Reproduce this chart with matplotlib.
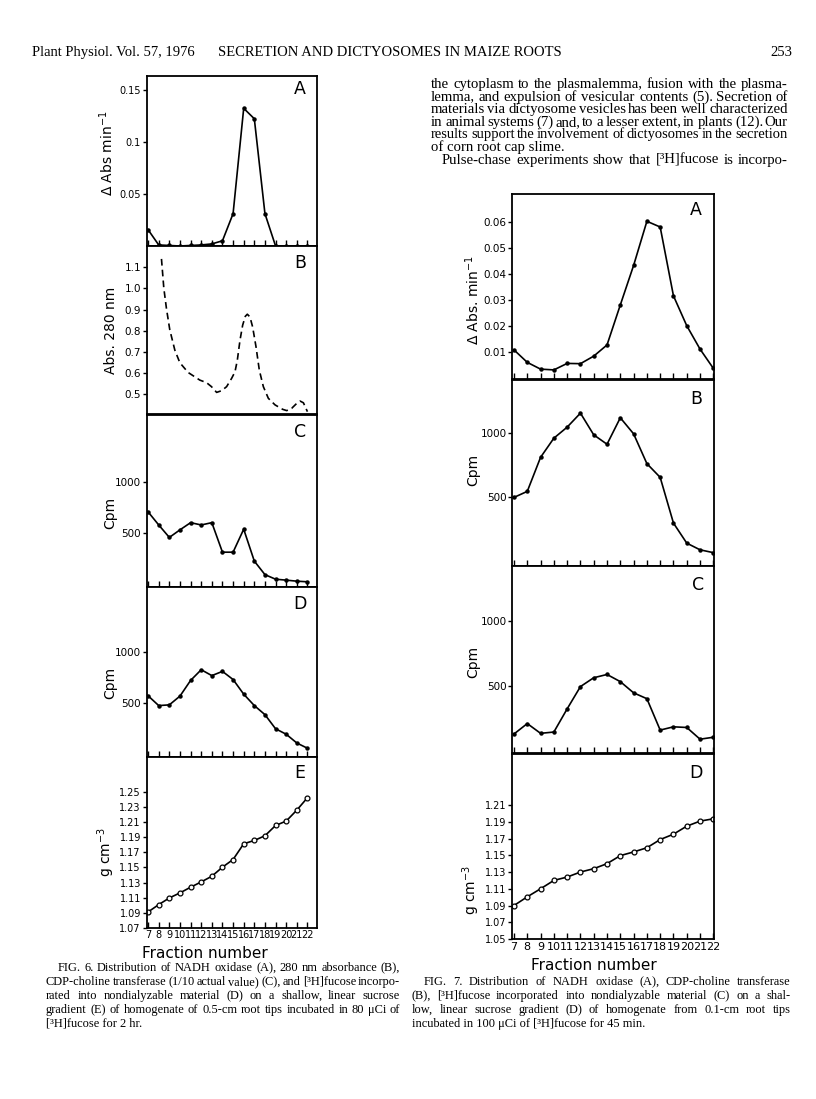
import matplotlib
matplotlib.use("Agg")
import matplotlib.pyplot as plt
from matplotlib.textpath import TextPath
from matplotlib.font_manager import FontProperties

W, H, DPI = 816, 1099, 100

# ---- data, Fig. 6 (fractions 7..22) ----
frac = list(range(7, 23))
f6_nadh = [0.0156, 0.001, 0.0005, 0.0, 0.0005, 0.001, 0.002, 0.005,
           0.031, 0.132, 0.122, 0.031, 0.0, 0.0, 0.0, 0.0]
f6_abs_frac = [8.26, 8.48, 8.73, 9.04, 9.52, 9.99, 10.77, 11.87, 12.5, 12.97,
               13.45, 13.92, 14.39, 14.86, 15.18, 15.4, 15.65, 15.9, 16.15,
               16.34, 16.59, 16.84, 17.16, 17.47, 17.85, 18.32, 18.95, 19.67,
               20.05, 20.52, 20.99, 21.31, 21.62, 22.0]
f6_abs = [1.139, 1.001, 0.904, 0.805, 0.708, 0.649, 0.603, 0.567, 0.555, 0.536,
          0.509, 0.517, 0.536, 0.575, 0.606, 0.661, 0.755, 0.826, 0.868,
          0.878, 0.865, 0.818, 0.724, 0.614, 0.536, 0.481, 0.450, 0.429,
          0.423, 0.434, 0.457, 0.468, 0.460, 0.418]
f6_cdp = [708, 582, 462, 535, 604, 582, 604, 320, 320, 541, 234, 104, 60, 51, 41, 35]
f6_fuc = [572, 477, 484, 569, 721, 825, 768, 809, 730, 588, 477, 389, 252, 199, 114, 63]
f6_dens = [1.0912, 1.1009, 1.1097, 1.1164, 1.1239, 1.1309, 1.1384, 1.1504,
           1.1605, 1.1813, 1.1857, 1.1919, 1.2055, 1.2113, 1.2258, 1.2422]

# ---- data, Fig. 7 ----
f7_nadh = [0.0107, 0.0059, 0.0033, 0.0030, 0.0055, 0.0054, 0.0083, 0.0126,
           0.028, 0.0432, 0.0602, 0.058, 0.0315, 0.020, 0.011, 0.0036]
f7_cdp = [497, 544, 809, 958, 1044, 1153, 984, 911, 1117, 992, 760, 653, 297, 141, 89, 67]
f7_fuc = [133, 213, 138, 148, 326, 497, 565, 590, 535, 449, 404, 163, 188, 183, 93, 108]
f7_dens = [1.090, 1.1004, 1.110, 1.120, 1.124, 1.130, 1.134, 1.140, 1.1496,
           1.154, 1.159, 1.1688, 1.1752, 1.1848, 1.1908, 1.1936]

fig = plt.figure(figsize=(W / DPI, H / DPI), dpi=DPI)
fig.patch.set_facecolor("white")


def add_ax(x0, x1, y0, y1):
    # pixel box (y from top) -> axes
    return fig.add_axes([x0 / W, 1 - y1 / H, (x1 - x0) / W, (y1 - y0) / H])


def style(ax, ylim, yticks, ylabels, xlim, xlabels=False, xticks=True, letter="", lpos=(0.9, 17)):
    ax.set_xlim(*xlim)
    ax.set_ylim(*ylim)
    ax.set_yticks(yticks)
    ax.set_yticklabels(ylabels)
    for s in ax.spines.values():
        s.set_linewidth(1.3)
    ax.tick_params(axis="y", direction="out", length=3, width=1, labelsize=7.5, pad=1)
    if xticks:
        ax.set_xticks(frac)
    else:
        ax.set_xticks([])
    ax.tick_params(axis="x", direction="in", length=4, width=1, labelsize=8, pad=2)
    if xlabels:
        ax.set_xticklabels([str(f) for f in frac])
    else:
        ax.set_xticklabels([])
    h = ax.get_position().height * H
    ax.text(lpos[0], 1 - lpos[1] / h, letter, transform=ax.transAxes,
            ha="center", va="center", fontsize=12.5, family="DejaVu Sans")


ptkw = dict(color="black", lw=1.2, marker="o", markersize=2.2)

# ---------------- Fig. 6 ----------------
L0, L1 = 146.5, 317
xl6 = (6.85, 22.9)
ax = add_ax(L0, L1, 76, 246)
ax.plot(frac, f6_nadh, **ptkw)
style(ax, (0, 0.163), [0.05, 0.1, 0.15], ["0.05", "0.1", "0.15"], xl6, letter="A", lpos=(0.9, 13))
ax.tick_params(axis="y", labelsize=7)

ax = add_ax(L0, L1, 246, 414)
ax.plot(f6_abs_frac, f6_abs, color="black", lw=1.2, ls=(0, (4, 2.5)))
style(ax, (0.407, 1.2), [0.5, 0.6, 0.7, 0.8, 0.9, 1.0, 1.1],
      ["0.5", "0.6", "0.7", "0.8", "0.9", "1.0", "1.1"], xl6, xticks=False, letter="B")

ax = add_ax(L0, L1, 415, 587)
ax.plot(frac, f6_cdp, **ptkw)
style(ax, (-15, 1640), [500, 1000], ["500", "1000"], xl6, letter="C")

ax = add_ax(L0, L1, 587, 757)
ax.plot(frac, f6_fuc, **ptkw)
style(ax, (-22, 1628), [500, 1000], ["500", "1000"], xl6, letter="D")

ax = add_ax(L0, L1, 757, 928)
ax.plot(frac, f6_dens, color="black", lw=1.2, marker="o", markersize=3.5,
        markerfacecolor="white", markeredgewidth=0.9)
yt = [1.07, 1.09, 1.11, 1.13, 1.15, 1.17, 1.19, 1.21, 1.23, 1.25]
style(ax, (1.07, 1.296), yt, ["%.2f" % v for v in yt], xl6, xlabels=True, letter="E", lpos=(0.9, 16))
ax.tick_params(axis="x", labelsize=7, pad=1.5)
ax.tick_params(axis="y", labelsize=7)

# ---------------- Fig. 7 ----------------
R0, R1 = 512, 714
xl7 = (6.85, 22.05)
ax = add_ax(R0, R1, 194, 379)
ax.plot(frac, f7_nadh, **ptkw)
yt = [0.01, 0.02, 0.03, 0.04, 0.05, 0.06]
style(ax, (-0.0005, 0.0707), yt, ["%.2f" % v for v in yt], xl7, letter="A", lpos=(0.91, 16))

ax = add_ax(R0, R1, 380, 566)
ax.plot(frac, f7_cdp, **ptkw)
style(ax, (-37, 1411), [500, 1000], ["500", "1000"], xl7, letter="B", lpos=(0.91, 19))

ax = add_ax(R0, R1, 566, 753)
ax.plot(frac, f7_fuc, **ptkw)
style(ax, (-13, 1423), [500, 1000], ["500", "1000"], xl7, letter="C", lpos=(0.92, 19))

ax = add_ax(R0, R1, 754, 939)
ax.plot(frac, f7_dens, color="black", lw=1.2, marker="o", markersize=3.5,
        markerfacecolor="white", markeredgewidth=0.9)
yt = [1.05, 1.07, 1.09, 1.11, 1.13, 1.15, 1.17, 1.19, 1.21]
style(ax, (1.05, 1.271), yt, ["%.2f" % v for v in yt], xl7, xlabels=True, letter="D", lpos=(0.91, 19))
ax.tick_params(axis="y", labelsize=7)


# ---------------- axis titles ----------------
def ylab(x, y, s):
    fig.text(x / W, 1 - y / H, s, rotation=90, ha="center", va="center",
             fontsize=10, family="DejaVu Sans")


ylab(107, 153, "Δ Abs min$^{-1}$")
ylab(111, 330, "Abs. 280 nm")
ylab(110, 513, "Cpm")
ylab(110, 683, "Cpm")
ylab(106, 852, "g cm$^{-3}$")
ylab(473, 300, "Δ Abs. min$^{-1}$")
ylab(473, 470, "Cpm")
ylab(473, 662, "Cpm")
ylab(471, 890, "g cm$^{-3}$")
fig.text(205 / W, 1 - 953 / H, "Fraction number", ha="center", va="center",
         fontsize=11, family="DejaVu Sans")
fig.text(594 / W, 1 - 966 / H, "Fraction number", ha="center", va="center",
         fontsize=11, family="DejaVu Sans")


# ---------------- page text ----------------
def word_widths(words, size):
    fp = FontProperties(family="Liberation Serif", size=size)
    return fp, [TextPath((0, 0), w, prop=fp).get_extents().width * DPI / 72 for w in words]


def put_line(s, x0, x1, y, size, justify=True, min_gap=3.0):
    words = s.split()
    if not justify or len(words) < 2:
        fp = FontProperties(family="Liberation Serif", size=size)
        fig.text(x0 / W, 1 - y / H, s, fontproperties=fp, va="baseline")
        return
    fp, widths = word_widths(words, size)
    gap = (x1 - x0 - sum(widths)) / (len(words) - 1)
    while gap < min_gap and size > 6:
        size -= 0.15
        fp, widths = word_widths(words, size)
        gap = (x1 - x0 - sum(widths)) / (len(words) - 1)
    x = x0
    for w, wd in zip(words, widths):
        fig.text(x / W, 1 - y / H, w, fontproperties=fp, va="baseline")
        x += wd + gap


hfp = FontProperties(family="Liberation Serif", size=10.5)
fig.text(32 / W, 1 - 56 / H, "Plant Physiol. Vol. 57, 1976", fontproperties=hfp, va="baseline")
fig.text(390 / W, 1 - 56 / H, "SECRETION AND DICTYOSOMES IN MAIZE ROOTS",
         fontproperties=hfp, va="baseline", ha="center")
fig.text(792 / W, 1 - 56 / H, "253", fontproperties=hfp, va="baseline", ha="right")

body = [
    "the cytoplasm to the plasmalemma, fusion with the plasma-",
    "lemma, and expulsion of vesicular contents (5). Secretion of",
    "materials via dictyosome vesicles has been well characterized",
    "in animal systems (7) and, to a lesser extent, in plants (12). Our",
    "results support the involvement of dictyosomes in the secretion",
    "of corn root cap slime.",
    "Pulse-chase experiments show that [³H]fucose is incorpo-",
]
for i, line in enumerate(body):
    y = 88 + i * 12.6
    if i == 5:
        put_line(line, 431, 787, y, 10.6, justify=False)
    elif i == 6:
        put_line(line, 442, 787, y, 10.6)
    else:
        put_line(line, 431, 787, y, 10.6)

cap6 = [
    "FIG. 6. Distribution of NADH oxidase (A), 280 nm absorbance (B),",
    "CDP-choline transferase (1/10 actual value) (C), and [³H]fucose incorpo-",
    "rated into nondialyzable material (D) on a shallow, linear sucrose",
    "gradient (E) of homogenate of 0.5-cm root tips incubated in 80 μCi of",
    "[³H]fucose for 2 hr.",
]
for i, line in enumerate(cap6):
    y = 971 + i * 14
    x0 = 58 if i == 0 else 46
    put_line(line, x0, 399, y, 8.9, justify=(i < 4), min_gap=2.4)

cap7 = [
    "FIG. 7. Distribution of NADH oxidase (A), CDP-choline transferase",
    "(B), [³H]fucose incorporated into nondialyzable material (C) on a shal-",
    "low, linear sucrose gradient (D) of homogenate from 0.1-cm root tips",
    "incubated in 100 μCi of [³H]fucose for 45 min.",
]
for i, line in enumerate(cap7):
    y = 985 + i * 14
    x0 = 424 if i == 0 else 412
    put_line(line, x0, 790, y, 8.9, justify=(i < 3), min_gap=2.4)

fig.savefig("out.png", dpi=DPI)
